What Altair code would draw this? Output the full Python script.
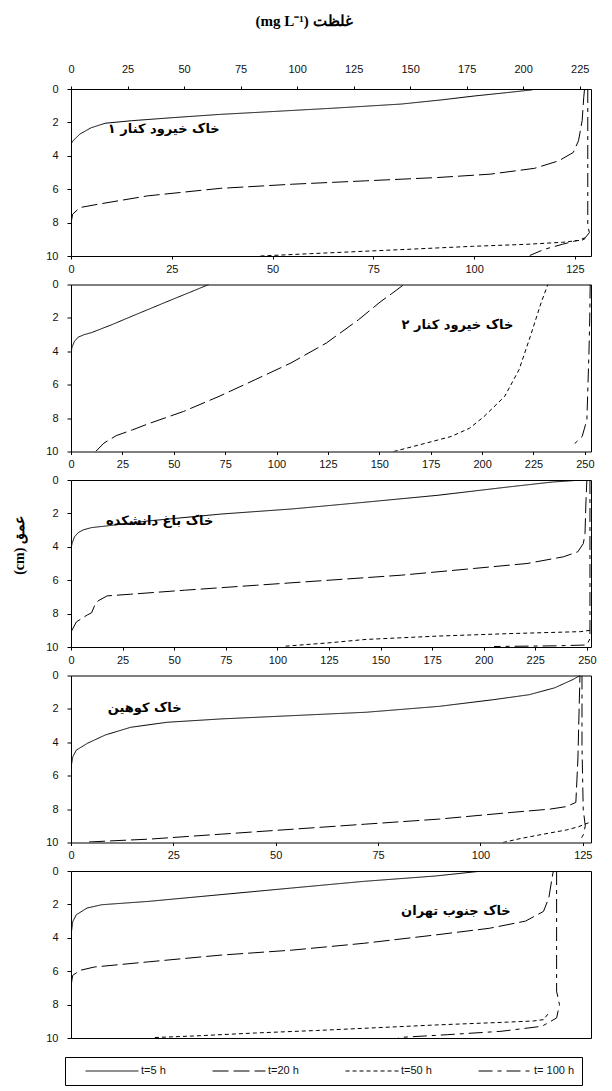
import altair as alt
import pandas as pd

series_names = ["t=5 h", "t=20 h", "t=50 h", "t= 100 h"]
dash_patterns = [[1, 0], [16, 5], [4, 3], [14, 5, 4, 5]]

panel_labels = ["خاک خیرود کنار ۱", "خاک خیرود کنار ۲", "خاک باغ دانشکده", "خاک کوهین", "خاک جنوب تهران"]
label_conc = [23, 188, 43, 18, 94]
label_depth = [2.4, 2.4, 2.45, 1.95, 2.4]

x_max = [129, 253, 252, 127, 127]
top_ticks_p1 = [0, 25, 50, 75, 100, 125, 150, 175, 200, 225]
top_max_p1 = 230
bottom_ticks = [
    [0, 25, 50, 75, 100, 125],
    [0, 25, 50, 75, 100, 125, 150, 175, 200, 225, 250],
    [0, 25, 50, 75, 100, 125, 150, 175, 200, 225, 250],
    [0, 25, 50, 75, 100, 125],
    None,
]
depth_ticks = [0, 2, 4, 6, 8, 10]

# ---- Panel 1 ----
p1_t5_conc = [0, 0.5, 2.2, 5, 8.5, 15, 25, 37, 50, 65, 82, 92, 100, 108, 114.5]
p1_t5_depth = [3.3, 3.1, 2.7, 2.32, 2.05, 1.9, 1.72, 1.52, 1.35, 1.15, 0.9, 0.65, 0.42, 0.22, 0.05]
p1_t20_conc = [0, 0.4, 2.2, 6.7, 19, 37, 55, 73, 91, 104, 115, 121, 124.6, 125.9, 126.8, 127.2, 127.4]
p1_t20_depth = [8.05, 7.5, 7.1, 6.9, 6.4, 5.95, 5.7, 5.5, 5.3, 5.1, 4.75, 4.3, 3.8, 3.1, 1.9, 0.5, 0]
p1_t50_conc = [47, 59.4, 81.7, 99.6, 113, 121.9, 126.8, 127.6]
p1_t50_depth = [10, 9.86, 9.62, 9.42, 9.3, 9.18, 9.05, 8.95]
p1_t100_conc = [128.2, 128.2, 128.6, 127.6, 126.3, 121.9, 117.4, 113.8]
p1_t100_depth = [0, 8.2, 8.6, 8.9, 9.02, 9.3, 9.6, 9.97]

# ---- Panel 2 ----
p2_t5_conc = [0, 0, 0.5, 1.7, 3.5, 6.5, 10, 20, 30, 40, 50, 60, 67]
p2_t5_depth = [5.5, 4.1, 3.75, 3.4, 3.15, 3.0, 2.88, 2.4, 1.88, 1.37, 0.86, 0.36, 0]
p2_t20_conc = [12, 16, 22, 30, 37.4, 54.8, 72, 89.6, 107, 124.3, 140, 150.4, 156, 162]
p2_t20_depth = [10, 9.5, 9.05, 8.7, 8.35, 7.6, 6.7, 5.7, 4.7, 3.5, 2.1, 1.05, 0.55, 0]
p2_t50_conc = [157, 169.6, 185, 194, 201, 211, 218, 223.5, 228.7, 232]
p2_t50_depth = [10, 9.6, 9.1, 8.6, 7.9, 6.7, 5.1, 3.1, 1.1, 0]
p2_t100_conc = [252.6, 252.4, 252, 251, 248.7, 244]
p2_t100_depth = [0, 2, 4.1, 8.1, 9.1, 9.65]

# ---- Panel 3 ----
p3_t5_conc = [0, 0.5, 1.7, 3.5, 6.1, 10, 16.6, 37.6, 72.6, 107.5, 142.5, 177.4, 212.4, 233.4, 248]
p3_t5_depth = [4.15, 3.8, 3.4, 3.15, 2.98, 2.85, 2.76, 2.45, 2.04, 1.73, 1.33, 0.92, 0.41, 0.12, 0]
p3_t20_conc = [0, 2.6, 7.9, 10, 11.5, 13.1, 17.5, 28.8, 55, 90, 125, 160, 195, 221, 238.6, 245.6, 248.3, 249.1, 249.5, 250]
p3_t20_depth = [9.1, 8.5, 8.08, 7.95, 7.5, 7.24, 6.94, 6.84, 6.6, 6.3, 6.0, 5.7, 5.3, 5.0, 4.6, 4.3, 3.8, 3.2, 1.5, 0]
p3_t50_conc = [104, 125, 142.5, 177, 212, 247, 251.5]
p3_t50_depth = [9.95, 9.75, 9.55, 9.35, 9.2, 9.08, 9.0]
p3_t100_conc = [251.5, 251.5, 250, 235, 205]
p3_t100_depth = [0, 9.5, 9.88, 9.93, 9.97]

# ---- Panel 4 ----
p4_t5_conc = [0, 0.44, 1.3, 4.0, 8.4, 14.6, 23.5, 36.7, 54.4, 72.1, 89.8, 103.1, 111.9, 118.1, 122.6, 124.3]
p4_t5_depth = [5.5, 4.87, 4.47, 4.06, 3.56, 3.1, 2.8, 2.6, 2.4, 2.2, 1.85, 1.45, 1.15, 0.74, 0.24, 0]
p4_t20_conc = [4.4, 10, 19, 36.7, 54.4, 72, 89.8, 107.5, 117, 121, 123.3, 123.8, 124.1, 124.3]
p4_t20_depth = [9.97, 9.9, 9.8, 9.5, 9.2, 8.9, 8.6, 8.2, 8.0, 7.85, 7.6, 5, 2, 0]
p4_t50_conc = [105.5, 110, 116.5, 121, 124, 126.6]
p4_t50_depth = [10, 9.75, 9.45, 9.25, 9.05, 8.8]
p4_t100_conc = [124.8, 124.8, 125.1, 125.6, 125.2, 124.5]
p4_t100_depth = [0, 4.2, 8.0, 9.0, 9.5, 9.8]

# ---- Panel 5 ----
p5_t5_conc = [0, 0.44, 1.3, 3.9, 7.5, 18.9, 36.4, 53.9, 71.5, 89, 100.5]
p5_t5_depth = [3.85, 3.02, 2.62, 2.22, 2.02, 1.82, 1.42, 1.02, 0.62, 0.3, 0]
p5_t20_conc = [0, 0.4, 2.2, 5.7, 18.9, 36.4, 53.9, 71.5, 89, 102.2, 111, 115.4, 116.7, 117.5, 117.8]
p5_t20_depth = [6.9, 6.25, 5.95, 5.75, 5.44, 5.04, 4.74, 4.33, 3.83, 3.43, 3.0, 2.42, 1.61, 0.4, 0]
p5_t50_conc = [20.5, 30, 45, 60, 71.5, 89, 106.6, 113, 115.4, 116.7]
p5_t50_depth = [9.97, 9.88, 9.7, 9.55, 9.42, 9.22, 9.05, 8.98, 8.9, 8.5]
p5_t100_conc = [118.6, 118.6, 119.3, 118.6, 115, 105, 92, 80]
p5_t100_depth = [0, 7.2, 8.0, 8.8, 9.3, 9.6, 9.8, 9.97]

curves = [
    [(p1_t5_conc, p1_t5_depth), (p1_t20_conc, p1_t20_depth), (p1_t50_conc, p1_t50_depth), (p1_t100_conc, p1_t100_depth)],
    [(p2_t5_conc, p2_t5_depth), (p2_t20_conc, p2_t20_depth), (p2_t50_conc, p2_t50_depth), (p2_t100_conc, p2_t100_depth)],
    [(p3_t5_conc, p3_t5_depth), (p3_t20_conc, p3_t20_depth), (p3_t50_conc, p3_t50_depth), (p3_t100_conc, p3_t100_depth)],
    [(p4_t5_conc, p4_t5_depth), (p4_t20_conc, p4_t20_depth), (p4_t50_conc, p4_t50_depth), (p4_t100_conc, p4_t100_depth)],
    [(p5_t5_conc, p5_t5_depth), (p5_t20_conc, p5_t20_depth), (p5_t50_conc, p5_t50_depth), (p5_t100_conc, p5_t100_depth)],
]

W, H = 520, 167
LABEL_FONT = "Liberation Sans"
ARABIC_FONT = "DejaVu Sans"

legend = alt.Legend(
    orient="none", legendX=-6, legendY=968, direction="horizontal", columns=4,
    symbolType="stroke", symbolSize=2800, symbolStrokeWidth=1, symbolStrokeColor="black",
    clipHeight=14,
    labelFont=LABEL_FONT, labelFontSize=11, labelColor="#111", labelOffset=2,
    columnPadding=46, padding=7, strokeColor="black", fillColor="white",
    title="\u00a0", titleOrient="left", titlePadding=13, titleFontSize=11,
)


def make_panel(i):
    rows = []
    for s, (cs, ds) in zip(series_names, curves[i]):
        for k, (c, d) in enumerate(zip(cs, ds)):
            rows.append({"series": s, "idx": k, "conc": c, "depth": d})
    df = pd.DataFrame(rows)

    if bottom_ticks[i] is None:
        xaxis = None
    else:
        xaxis = alt.Axis(orient="bottom", values=bottom_ticks[i], title=None, tickSize=3,
                         labelPadding=4, labelFlush=False, labelOverlap=False)

    yaxis = alt.Axis(
        values=depth_ticks, tickSize=4, labelPadding=9, minExtent=26, maxExtent=26,
        labelOverlap=False, labelFlush=False,
        title=("(cm) عمق" if i == 2 else "\u00a0"),
        titleFont="Liberation Serif", titleFontWeight="bold", titleFontSize=14,
        titleAngle=270, titleX=-52, titleY=(65 if i == 2 else H / 2),
        titleAlign="center", titleBaseline="middle",
    )

    xscale = alt.Scale(domain=[0, x_max[i]], nice=False, zero=False)
    yscale = alt.Scale(domain=[0, 10], reverse=True, nice=False, zero=False)

    lines = alt.Chart(df).mark_line(color="black", strokeWidth=1, clip=True).encode(
        x=alt.X("conc:Q", scale=xscale, axis=xaxis),
        y=alt.Y("depth:Q", scale=yscale, axis=yaxis),
        strokeDash=alt.StrokeDash("series:N", scale=alt.Scale(domain=series_names, range=dash_patterns),
                                  legend=legend),
        detail="series:N",
        order=alt.Order("idx:Q"),
    )
    lab_df = pd.DataFrame({"conc": [label_conc[i]], "depth": [label_depth[i]], "label": [panel_labels[i]]})
    text = alt.Chart(lab_df).mark_text(font=ARABIC_FONT, fontWeight="bold", fontSize=13, color="black",
                                       align="center", baseline="middle").encode(
        x=alt.X("conc:Q", scale=xscale, axis=xaxis),
        y=alt.Y("depth:Q", scale=yscale, axis=yaxis),
        text="label:N")
    inner = alt.layer(lines, text)

    if i == 0:
        top_df = pd.DataFrame({"v": [0]})
        top = alt.Chart(top_df).mark_point(opacity=0).encode(
            x=alt.X("v:Q", scale=alt.Scale(domain=[0, top_max_p1], nice=False, zero=False),
                    axis=alt.Axis(orient="top", values=top_ticks_p1, title=None, tickSize=3,
                                  labelPadding=12, labelFlush=False, labelOverlap=False)),
        )
        chart = alt.layer(inner, top).resolve_scale(x="independent")
    else:
        chart = inner
    return chart.properties(width=W, height=H)


panels = [make_panel(i) for i in range(5)]

chart = alt.vconcat(*panels, spacing=28.5, bounds="flush").properties(
    title=alt.TitleParams("(mg L⁻¹) غلظت", font="Liberation Serif", fontSize=15,
                          fontWeight="bold", anchor="middle", offset=34, color="black"),
    padding={"left": 11, "top": 13, "right": 0, "bottom": 0},
).configure_view(stroke="black", strokeWidth=1).configure_axis(
    labelFont=LABEL_FONT, labelFontSize=11, labelColor="#111", tickColor="black",
    domain=False, grid=False,
)

chart.save("out.html", embed_options={"renderer": "svg", "actions": False})
